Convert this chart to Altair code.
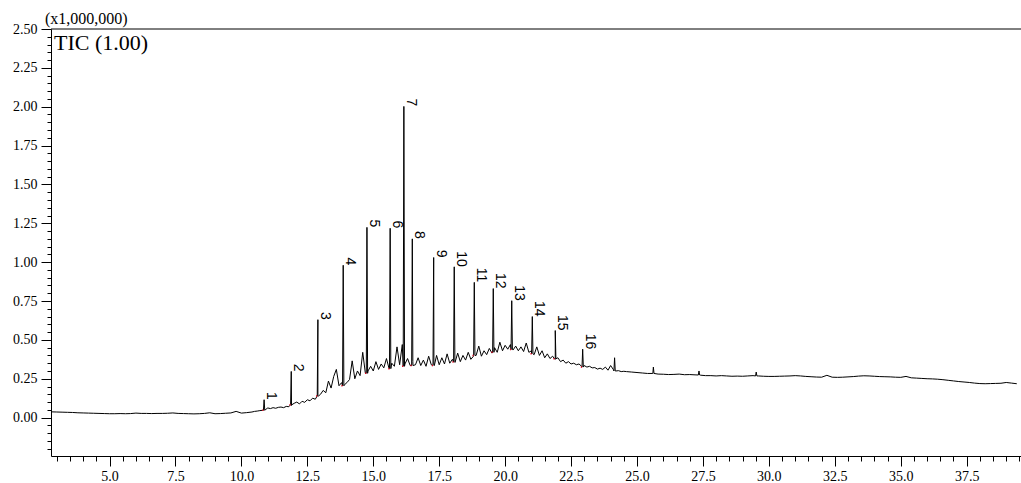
import altair as alt
import numpy as np
import pandas as pd

# ---------------- data ----------------
# flat baseline before the hump (2.8 .. 10.4 min, every 0.2 min)
seg_a_start, seg_a_step = 2.8, 0.2
seg_a_vals = [0.037, 0.036, 0.035, 0.034, 0.033, 0.031, 0.030, 0.029, 0.028, 0.027,
              0.026, 0.025, 0.025, 0.026, 0.025, 0.026, 0.029, 0.027, 0.027, 0.026,
              0.027, 0.027, 0.028, 0.030, 0.027, 0.026, 0.025, 0.024, 0.025, 0.027,
              0.031, 0.025, 0.026, 0.028, 0.030, 0.040, 0.029, 0.032, 0.036]

# busy hump region (10.5 .. 24.5 min, every 0.1 min)
seg_b_start, seg_b_step = 10.5, 0.1
seg_b_vals = [0.040, 0.042, 0.045, 0.047, 0.050,
              0.062, 0.058, 0.064, 0.060, 0.066, 0.068, 0.064, 0.072, 0.070, 0.078,
              0.092, 0.100, 0.088, 0.105, 0.098, 0.115, 0.108, 0.125, 0.118, 0.140,
              0.150, 0.175, 0.160, 0.235, 0.190, 0.265, 0.310, 0.205, 0.225, 0.210,
              0.225, 0.245, 0.365, 0.250, 0.300, 0.270, 0.420, 0.285, 0.300, 0.330,
              0.300, 0.360, 0.310, 0.345, 0.320, 0.380, 0.315, 0.350, 0.330, 0.455,
              0.340, 0.470, 0.345, 0.380, 0.335, 0.360, 0.340, 0.385, 0.335, 0.370,
              0.330, 0.395, 0.340, 0.345, 0.400, 0.340, 0.385, 0.345, 0.410, 0.350,
              0.375, 0.355, 0.415, 0.360, 0.400, 0.370, 0.420, 0.375, 0.395, 0.400,
              0.460, 0.395, 0.430, 0.405, 0.445, 0.415, 0.450, 0.420, 0.485, 0.430,
              0.465, 0.440, 0.470, 0.435, 0.460, 0.430, 0.455, 0.425, 0.480, 0.420,
              0.430, 0.405, 0.455, 0.400, 0.430, 0.385, 0.410, 0.380, 0.395, 0.375,
              0.385, 0.360, 0.370, 0.350, 0.360, 0.345, 0.350, 0.340, 0.345, 0.330,
              0.335, 0.325, 0.330, 0.320, 0.322, 0.312, 0.318, 0.310, 0.325, 0.305,
              0.335, 0.310, 0.300, 0.302, 0.296, 0.298]

# slowly falling tail (24.6 .. 39.4 min, every 0.2 min)
seg_c_start, seg_c_step = 24.6, 0.2
seg_c_vals = [0.296, 0.293, 0.290, 0.287, 0.284, 0.283, 0.280, 0.279, 0.277, 0.278,
              0.280, 0.276, 0.277, 0.275, 0.273, 0.270, 0.270, 0.268, 0.270, 0.268,
              0.266, 0.267, 0.266, 0.268, 0.270, 0.268, 0.266, 0.265, 0.265, 0.266,
              0.267, 0.268, 0.270, 0.268, 0.265, 0.263, 0.261, 0.260, 0.272, 0.260,
              0.259, 0.260, 0.262, 0.264, 0.267, 0.269, 0.268, 0.266, 0.264, 0.263,
              0.262, 0.260, 0.259, 0.265, 0.256, 0.254, 0.252, 0.250, 0.249, 0.247,
              0.244, 0.240, 0.236, 0.232, 0.229, 0.226, 0.222, 0.219, 0.218, 0.219,
              0.220, 0.221, 0.226, 0.222, 0.218]

# labelled peaks
peak_labels = [str(i) for i in range(1, 17)]
peak_times = [10.86, 11.89, 12.90, 13.86, 14.76, 15.64, 16.16, 16.48,
              17.29, 18.07, 18.83, 19.55, 20.25, 21.03, 21.90, 22.94]
peak_tops = [0.115, 0.297, 0.630, 0.980, 1.224, 1.218, 2.002, 1.150,
             1.030, 0.970, 0.870, 0.830, 0.752, 0.650, 0.560, 0.440]
peak_bases = [0.047, 0.083, 0.139, 0.205, 0.285, 0.315, 0.330, 0.335,
              0.335, 0.357, 0.400, 0.420, 0.438, 0.410, 0.378, 0.325]

# small unlabelled spikes on the tail
minor_times = [24.15, 25.62, 27.35, 29.52]
minor_tops = [0.385, 0.325, 0.300, 0.293]
minor_bases = [0.300, 0.284, 0.274, 0.268]

# ---------------- build the trace ----------------
def grid(start, step, vals):
    return np.round(start + step * np.arange(len(vals)), 3)

HALF = 0.025
parts = [
    pd.DataFrame({"t": grid(seg_a_start, seg_a_step, seg_a_vals), "v": seg_a_vals}),
    pd.DataFrame({"t": grid(seg_b_start, seg_b_step, seg_b_vals), "v": seg_b_vals}),
    pd.DataFrame({"t": grid(seg_c_start, seg_c_step, seg_c_vals), "v": seg_c_vals}),
]
for ts, tops, bases in [(peak_times, peak_tops, peak_bases),
                        (minor_times, minor_tops, minor_bases)]:
    for t, top, b in zip(ts, tops, bases):
        parts.append(pd.DataFrame({"t": [t - HALF, t, t + HALF], "v": [b, top, b]}))
trace = pd.concat(parts).sort_values("t").reset_index(drop=True)

peaks = pd.DataFrame({"t": peak_times, "top": peak_tops, "base": peak_bases,
                      "label": peak_labels})
peaks["m0"] = peaks["t"] - 0.07
peaks["m1"] = peaks["t"] - HALF

X_DOM = [2.78, 39.56]
Y_DOM = [-0.247, 2.5]
SERIF = "Liberation Serif"

x_ticks = [round(float(v), 2) for v in np.arange(3.0, 39.51, 0.5)]
y_ticks = [round(float(v), 2) for v in np.arange(-0.20, 2.501, 0.05)]

x_major = "abs(datum.value/2.5 - round(datum.value/2.5)) < 0.001"
y_major = "abs(datum.value*4 - round(datum.value*4)) < 0.001"

x_scale = alt.Scale(domain=X_DOM, nice=False, zero=False)
y_scale = alt.Scale(domain=Y_DOM, nice=False, zero=False)

x_axis = alt.Axis(values=x_ticks, title=None, grid=False,
                  labelExpr=f"{x_major} ? format(datum.value, '.1f') : ''",
                  tickSize={"condition": {"test": x_major, "value": 10}, "value": 5},
                  labelOverlap=False, labelFlush=False, labelPadding=3)
y_axis = alt.Axis(values=y_ticks, title=None, grid=False,
                  labelExpr=f"{y_major} ? format(datum.value, '.2f') : ''",
                  tickSize={"condition": {"test": y_major, "value": 10}, "value": 4},
                  labelOverlap=False, labelFlush=False, labelPadding=4)


def X(field):
    return alt.X(field, type="quantitative", scale=x_scale, axis=x_axis, title=None)


def Y(field):
    return alt.Y(field, type="quantitative", scale=y_scale, axis=y_axis, title=None)


line = alt.Chart(trace).mark_line(color="black", strokeWidth=1, clip=True).encode(
    x=X("t"), y=Y("v")
)

red = alt.Chart(peaks).mark_rule(color="#e8001c", strokeWidth=1.5).encode(
    x=X("m0"), x2="m1:Q", y=Y("base")
)

labels = alt.Chart(peaks).mark_text(
    angle=90, align="right", baseline="bottom",
    font="Liberation Sans", fontSize=14, color="black"
).encode(x=X("t"), y=Y("top"), text="label:N")

top_rule = alt.Chart(pd.DataFrame({"y": [Y_DOM[1]]})).mark_rule(
    color="black", strokeWidth=1
).encode(y=Y("y"))

tic = alt.Chart(pd.DataFrame({"t": [X_DOM[0]], "v": [Y_DOM[1]], "s": ["TIC (1.00)"]})).mark_text(
    align="left", baseline="top", font=SERIF, fontSize=22, color="black", dx=3, dy=4
).encode(x=X("t"), y=Y("v"), text="s:N")

chart = alt.layer(line, red, labels, top_rule, tic).properties(
    width=970, height=427,
    background="white",
    title=alt.TitleParams("(x1,000,000)", anchor="start", frame="group",
                          font=SERIF, fontSize=16, fontWeight="normal",
                          color="black", offset=2, dx=-6, dy=7),
    autosize=alt.AutoSizeParams(type="none"),
    padding={"left": 51, "top": 29, "right": 0, "bottom": 27},
).configure_view(stroke=None).configure_axis(
    labelOverlap=False, labelFlush=False, labelFont=SERIF, labelFontSize=14,
    labelColor="black", domainColor="black", tickColor="black", grid=False
)

chart.save("out.html", embed_options={"renderer": "svg", "actions": False})
